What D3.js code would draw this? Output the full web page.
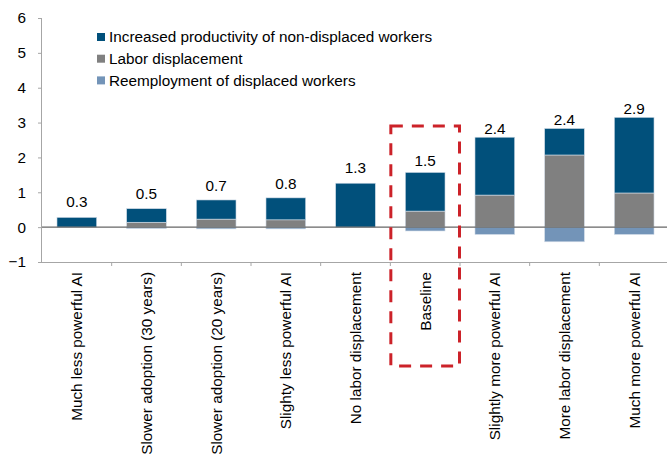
<!DOCTYPE html>
<html>
<head>
<meta charset="utf-8">
<script src="https://cdn.jsdelivr.net/npm/d3@7"></script>
<style>
  body { margin: 0; background: #fff; }
  svg text { font-family: "Liberation Sans", Arial, sans-serif; fill: #000; }
</style>
</head>
<body>
<svg id="chart"></svg>
<script>
  var categories = [ "Much less powerful AI", "Slower adoption (30 years)", "Slower adoption (20 years)",
    "Slighty less powerful AI", "No labor displacement", "Baseline", "Slightly more powerful AI",
    "More labor displacement", "Much more powerful AI" ];
  var productivity = [ 0.28, 0.39, 0.55, 0.63, 1.26, 1.11, 1.66, 0.76, 2.17 ];
  var displacement = [ 0.00, 0.14, 0.23, 0.21, 0.00, 0.46, 0.92, 2.07, 0.98 ];
  var reemployment = [ 0.00, -0.04, -0.05, -0.05, 0.00, -0.11, -0.21, -0.42, -0.21 ];
  var yTicks = [ -1, 0, 1, 2, 3, 4, 5, 6 ];
  var seriesNames = [ "Increased productivity of non-displaced workers", "Labor displacement", "Reemployment of displaced workers" ];
  var highlight = "Baseline";
  var highlightTop = 2.9;

  var colors = [ "#01507b", "#808080", "#7394b8" ];
  var width = 667, height = 455;
  var margin = { top: 18, left: 42, right: -2, axisY: 262 };
  var fontSize = "15.3px";

  var svg = d3.select( "#chart" ).attr( "width", width ).attr( "height", height );

  var x = d3.scaleBand()
    .domain( categories )
    .range( [ margin.left, width - margin.right ] )
    .padding( 0 );

  var y = d3.scaleLinear()
    .domain( [ -1, 6 ] )
    .range( [ margin.axisY, margin.top ] );

  var barW = x.bandwidth() * 0.57;

  var rows = categories.map( function ( c, i ) {
    return { cat: c, prod: productivity[i], disp: displacement[i], reemp: reemployment[i],
      net: productivity[i] + displacement[i] + reemployment[i] };
  });

  // y axis
  var yAxis = svg.append( "g" )
    .attr( "transform", "translate(" + margin.left + ",0)" )
    .call( d3.axisLeft( y ).tickValues( yTicks ).tickSize( 4 ).tickPadding( 12 ).tickFormat( d3.format( "d" ) ) );
  yAxis.selectAll( "line, path" ).attr( "stroke", "#a6a6a6" );
  yAxis.select( ".domain" ).attr( "d", "M-0.5," + y( 6 ) + "V" + y( -1 ) );
  yAxis.selectAll( "text" ).style( "font-size", fontSize ).attr( "fill", "#000" );

  // category axis sits at -1
  var xAxis = svg.append( "g" )
    .attr( "transform", "translate(0," + y( -1 ) + ")" )
    .call( d3.axisBottom( x ).tickSize( 0 ) );
  xAxis.select( ".domain" ).attr( "stroke", "#a6a6a6" ).attr( "d", "M" + ( margin.left - 4 ) + ",0.5H" + width );
  xAxis.selectAll( ".tick text" )
    .style( "font-size", fontSize )
    .attr( "transform", "rotate(-90)" )
    .attr( "text-anchor", "end" )
    .attr( "x", -10 )
    .attr( "y", 0 )
    .attr( "dy", "0.35em" );
  xAxis.selectAll( ".sep" )
    .data( categories.slice( 1 ) )
    .enter().append( "line" )
      .attr( "x1", function ( d ) { return x( d ); } )
      .attr( "x2", function ( d ) { return x( d ); } )
      .attr( "y1", 0 ).attr( "y2", 4 )
      .attr( "stroke", "#a6a6a6" );

  // stacked bars
  var segs = [];
  rows.forEach( function ( r ) {
    segs.push( { cat: r.cat, y0: 0, y1: r.disp, k: 1 } );
    segs.push( { cat: r.cat, y0: r.disp, y1: r.disp + r.prod, k: 0 } );
    segs.push( { cat: r.cat, y0: r.reemp, y1: 0, k: 2 } );
  });

  svg.append( "g" ).selectAll( "rect" )
    .data( segs.filter( function ( s ) { return s.y1 - s.y0 > 0; } ) )
    .enter().append( "rect" )
      .attr( "x", function ( d ) { return x( d.cat ) + ( x.bandwidth() - barW ) / 2; } )
      .attr( "width", barW )
      .attr( "y", function ( d ) { return y( d.y1 ); } )
      .attr( "height", function ( d ) { return y( d.y0 ) - y( d.y1 ); } )
      .attr( "fill", function ( d ) { return colors[d.k]; } )
      .attr( "stroke", "#d3dde8" )
      .attr( "stroke-width", 0.6 );

  // zero line
  svg.append( "line" )
    .attr( "x1", margin.left ).attr( "x2", width )
    .attr( "y1", y( 0 ) ).attr( "y2", y( 0 ) )
    .attr( "stroke", "#666" )
    .attr( "stroke-width", 1.3 );

  // net labels
  var fmt = d3.format( ".1f" );
  svg.append( "g" ).selectAll( "text" )
    .data( rows )
    .enter().append( "text" )
      .attr( "x", function ( d ) { return x( d.cat ) + x.bandwidth() / 2; } )
      .attr( "y", function ( d ) { return Math.min( y( d.prod + d.disp ) - 9, y( d.net ) - 16 ); } )
      .attr( "dy", "0.35em" )
      .attr( "text-anchor", "middle" )
      .style( "font-size", fontSize )
      .text( function ( d ) { return fmt( d.net ); } );

  // highlight box round the baseline
  svg.append( "rect" )
    .attr( "x", x( highlight ) + 0.5 )
    .attr( "y", y( highlightTop ) )
    .attr( "width", x.bandwidth() - 1 )
    .attr( "height", y( -1 ) + 104 - y( highlightTop ) )
    .attr( "fill", "none" )
    .attr( "stroke", "#cc2229" )
    .attr( "stroke-width", 3 )
    .attr( "stroke-dasharray", "12,9" );

  // legend
  var legend = svg.append( "g" ).attr( "transform", "translate(97,37)" );
  var item = legend.selectAll( "g" )
    .data( seriesNames )
    .enter().append( "g" )
      .attr( "transform", function ( d, i ) { return "translate(0," + ( i * 21.7 ) + ")"; } );
  item.append( "rect" )
    .attr( "x", 0 ).attr( "y", -4 )
    .attr( "width", 8 ).attr( "height", 8 )
    .attr( "fill", function ( d, i ) { return colors[i]; } );
  item.append( "text" )
    .attr( "x", 12 )
    .attr( "dy", "0.35em" )
    .style( "font-size", fontSize )
    .text( function ( d ) { return d; } );
</script>
</body>
</html>
